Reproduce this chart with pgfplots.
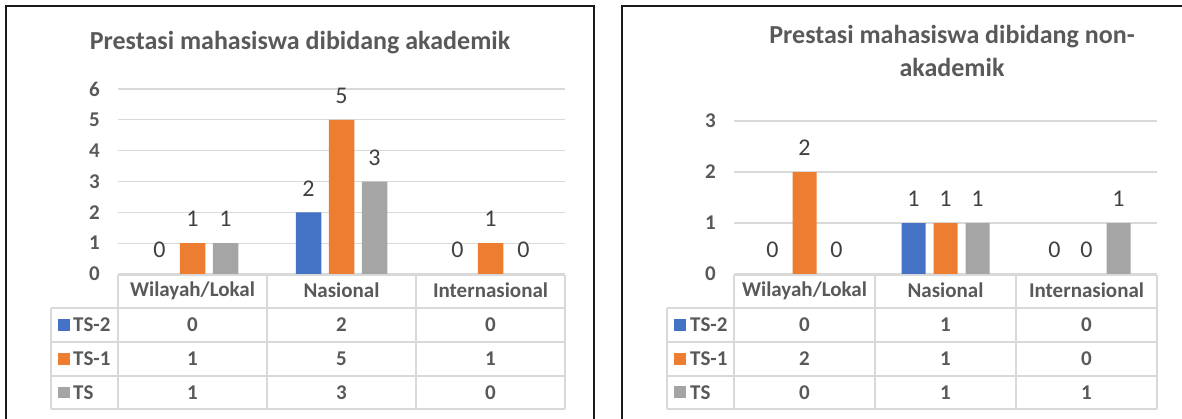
\documentclass[border=0pt]{standalone}
\usepackage{fontspec}
\setmainfont{Carlito}
\usepackage{pgfplots}
\pgfplotsset{compat=1.18}
\definecolor{cBlue}{HTML}{4472C4}
\definecolor{cOrange}{HTML}{ED7D31}
\definecolor{cGray}{HTML}{A5A5A5}
\definecolor{gridc}{HTML}{D9D9D9}
\definecolor{txt}{HTML}{595959}
\definecolor{lbl}{HTML}{404040}
\pgfplotsset{
 excel/.style={
  scale only axis, anchor=south west,
  xmin=-0.5,xmax=2.5,ymin=0,
  xtick={0,1,2}, xticklabels={Wilayah/Lokal,Nasional,Internasional},
  axis line style={draw=none}, major tick length=0pt,
  ymajorgrids, grid style={gridc, line width=1.3pt},
  ybar,
  tick label style={font=\fontsize{21}{25}\selectfont\bfseries, text=txt},
  yticklabel style={anchor=east, inner sep=0pt, xshift=-18pt},
  xticklabel style={anchor=center, inner sep=0pt, yshift=-16.5pt},
  /pgf/number format/assume math mode=true,
  nodes near coords, point meta=y,
  nodes near coords style={font=\fontsize{24}{28}\selectfont, text=lbl, anchor=center, yshift=24pt},
  clip=false,
 }
}
\newcommand{\tfont}{\fontsize{21}{25}\selectfont\bfseries\color{txt}}
\begin{document}
\begin{tikzpicture}[x=1pt,y=1pt]
\useasboundingbox (0,0) rectangle (1182,418);
\begin{scope}
\clip (0,0) rectangle (1182,418);
\draw[line width=1.5pt, black!90] (6,-20) -- (6,412) -- (594,412) -- (594,-20);
\draw[line width=1.5pt, black!90] (622,-20) -- (622,412) -- (1250,412);
\end{scope}
% ---------- left chart ----------
\node[font=\fontsize{26}{30}\selectfont\bfseries, text=txt, anchor=base] at (300,368) {Prestasi mahasiswa dibidang akademik};
\begin{axis}[excel, at={(118pt,144pt)}, width=447pt, height=185pt, ymax=6, ytick={0,1,2,3,4,5,6},
  bar width=25.5pt, ybar=7.5pt]
\addplot[fill=cBlue, draw=none] coordinates {(0,0) (1,2) (2,0)};
\addplot[fill=cOrange, draw=none] coordinates {(0,1) (1,5) (2,1)};
\addplot[fill=cGray, draw=none] coordinates {(0,1) (1,3) (2,0)};
\end{axis}
\begin{scope}[gridc, line width=1.3pt]
\draw (118,143) -- (565,143);
\foreach \yy in {110,76,42,9} {\draw (51,\yy) -- (565,\yy);}
\foreach \xx in {118,267,416,565} {\draw (\xx,143) -- (\xx,9);}
\draw (51,110) -- (51,9);
\end{scope}
\fill[cBlue] (58,87.5) rectangle (69.5,99);
\fill[cOrange] (58,53.5) rectangle (69.5,65);
\fill[cGray] (58,20) rectangle (69.5,31.5);
\node[anchor=west, inner sep=0pt] at (73,93) {\tfont TS-2};
\node[anchor=west, inner sep=0pt] at (73,59) {\tfont TS-1};
\node[anchor=west, inner sep=0pt] at (73,25.5) {\tfont TS};
\foreach \v [count=\i from 0] in {0,2,0} {\node at (192.5+149*\i,93) {\tfont \v};}
\foreach \v [count=\i from 0] in {1,5,1} {\node at (192.5+149*\i,59) {\tfont \v};}
\foreach \v [count=\i from 0] in {1,3,0} {\node at (192.5+149*\i,25.5) {\tfont \v};}
% ---------- right chart ----------
\node[font=\fontsize{26}{30}\selectfont\bfseries, text=txt, anchor=base] at (952,374) {Prestasi mahasiswa dibidang non-};
\node[font=\fontsize{26}{30}\selectfont\bfseries, text=txt, anchor=base] at (952,341) {akademik};
\begin{axis}[excel, at={(734pt,144pt)}, width=423pt, height=153pt, ymax=3, ytick={0,1,2,3},
  bar width=24pt, ybar=8pt]
\addplot[fill=cBlue, draw=none] coordinates {(0,0) (1,1) (2,0)};
\addplot[fill=cOrange, draw=none] coordinates {(0,2) (1,1) (2,0)};
\addplot[fill=cGray, draw=none] coordinates {(0,0) (1,1) (2,1)};
\end{axis}
\begin{scope}[gridc, line width=1.3pt]
\draw (734,143) -- (1157,143);
\foreach \yy in {110,76,42,9} {\draw (667,\yy) -- (1157,\yy);}
\foreach \xx in {734,875,1016,1157} {\draw (\xx,143) -- (\xx,9);}
\draw (667,110) -- (667,9);
\end{scope}
\fill[cBlue] (674,87.5) rectangle (686,99.5);
\fill[cOrange] (674,53.5) rectangle (686,65.5);
\fill[cGray] (674,20) rectangle (686,32);
\node[anchor=west, inner sep=0pt] at (690,93) {\tfont TS-2};
\node[anchor=west, inner sep=0pt] at (690,59) {\tfont TS-1};
\node[anchor=west, inner sep=0pt] at (690,25.5) {\tfont TS};
\foreach \v [count=\i from 0] in {0,1,0} {\node at (804.5+141*\i,93) {\tfont \v};}
\foreach \v [count=\i from 0] in {2,1,0} {\node at (804.5+141*\i,59) {\tfont \v};}
\foreach \v [count=\i from 0] in {0,1,1} {\node at (804.5+141*\i,25.5) {\tfont \v};}
\end{tikzpicture}
\end{document}
